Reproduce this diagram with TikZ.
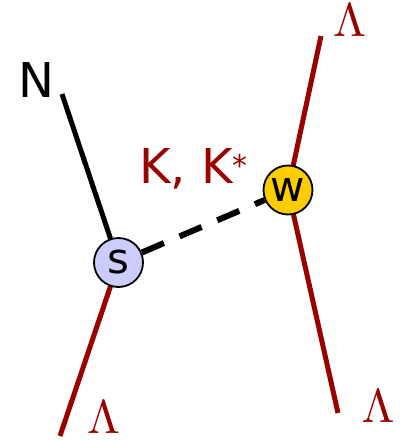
\documentclass[tikz,border=0pt]{standalone}
\usepackage{fontspec}
\setmainfont{DejaVu Sans}
\usetikzlibrary{backgrounds}
\definecolor{dred}{HTML}{990000}
\definecolor{lav}{HTML}{CCCCFF}
\definecolor{goldf}{HTML}{FFCC00}
\newcommand{\BigLam}{{\fontsize{10}{10}\selectfont\scalebox{4.75}{$\Lambda$}}}
\begin{document}
\begin{tikzpicture}[x=1pt,y=-1pt,
  vert/.style={circle,draw=black,line width=1.8pt,inner sep=0pt,minimum size=49pt,font=\fontsize{42}{42}\selectfont},
  lbl/.style={inner sep=0pt,anchor=base},
  lam/.style={lbl,text=dred},
  redline/.style={draw=dred,line width=5pt},
  blackline/.style={draw=black,line width=5pt},
  exch/.style={draw=black,line width=6pt,dash pattern=on 24pt off 17pt}]
\useasboundingbox (0,0) rectangle (405,440);
\node[vert,fill=lav] (s) at (118.5,262.5) {s};
\node[vert,fill=goldf] (w) at (288,190) {\raisebox{-2pt}{w}};
\node[lbl,font=\fontsize{48}{48}\selectfont] (N) at (36,97) {N};
\node[lbl,anchor=base west,text=dred,font=\fontsize{48}{48}\selectfont] (K) at (139,183) {K, K\raisebox{7pt}{\fontsize{30}{30}\selectfont*}};
\node[lam] (L1) at (349.5,36) {\BigLam};
\node[lam] (L2) at (103.5,433) {\BigLam};
\node[lam] (L3) at (378,422) {\BigLam};
\coordinate (nt) at (62,94);
\coordinate (lb) at (60,436);
\coordinate (rt) at (321,36);
\coordinate (rb) at (338,413);
\begin{scope}[on background layer]
  \draw[blackline] (s.center) -- (nt);
  \draw[redline] (s.center) -- (lb);
  \draw[redline] (w.center) -- (rt);
  \draw[redline] (w.center) -- (rb);
  \draw[exch] (s) -- (w);
\end{scope}
\end{tikzpicture}
\end{document}
